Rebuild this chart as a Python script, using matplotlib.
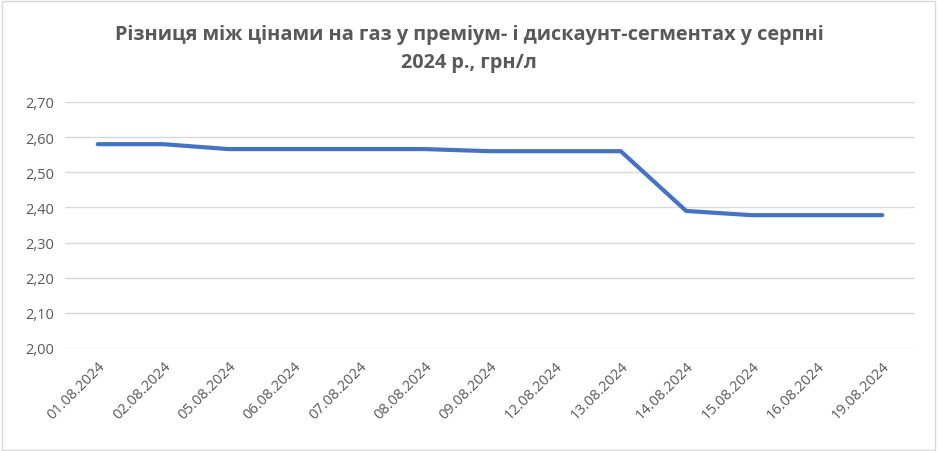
import matplotlib.pyplot as plt
from matplotlib.patches import Rectangle

dates = ["01.08.2024", "02.08.2024", "05.08.2024", "06.08.2024", "07.08.2024",
         "08.08.2024", "09.08.2024", "12.08.2024", "13.08.2024", "14.08.2024",
         "15.08.2024", "16.08.2024", "19.08.2024"]
spread = [2.58, 2.58, 2.566, 2.566, 2.566, 2.566, 2.56, 2.56, 2.56,
          2.39, 2.378, 2.378, 2.378]
yticks = [2.00, 2.10, 2.20, 2.30, 2.40, 2.50, 2.60, 2.70]

plt.rcParams['font.family'] = ['Open Sans', 'DejaVu Sans']

fig = plt.figure(figsize=(9.38, 4.52), dpi=100)
ax = fig.add_axes([65 / 938, 1 - 349 / 452, 850 / 938, 246 / 452])

x = range(len(dates))
ax.plot(x, spread, color="#4472C4", linewidth=3, solid_capstyle="round",
        solid_joinstyle="round")

ax.set_xlim(-0.5, len(dates) - 0.5)
ax.set_ylim(2.0, 2.7)
ax.set_yticks(yticks)
ax.set_yticklabels([f"{v:.2f}".replace(".", ",") for v in yticks],
                   color="#595959", fontsize=10.5)
ax.set_xticks(list(x))
ax.set_xticklabels(dates, rotation=45, ha="right", rotation_mode="anchor",
                   color="#595959", fontsize=10.5)
ax.tick_params(length=0, pad=8)
ax.tick_params(axis="x", pad=7)
ax.grid(axis="y", color="#D9D9D9", linewidth=1)
ax.set_axisbelow(True)
for s in ax.spines.values():
    s.set_visible(False)

fig.suptitle("Різниця між цінами на газ у преміум- і дискаунт-сегментах у серпні\n2024 р., грн/л",
             y=0.945, fontsize=14.3, fontweight="bold", color="#595959", linespacing=1.55)

fig.patches.append(Rectangle((0.002, 0.003), 0.995, 0.993, transform=fig.transFigure,
                             fill=False, edgecolor="#D9D9D9", linewidth=1))

fig.savefig("out.png", dpi=100)
